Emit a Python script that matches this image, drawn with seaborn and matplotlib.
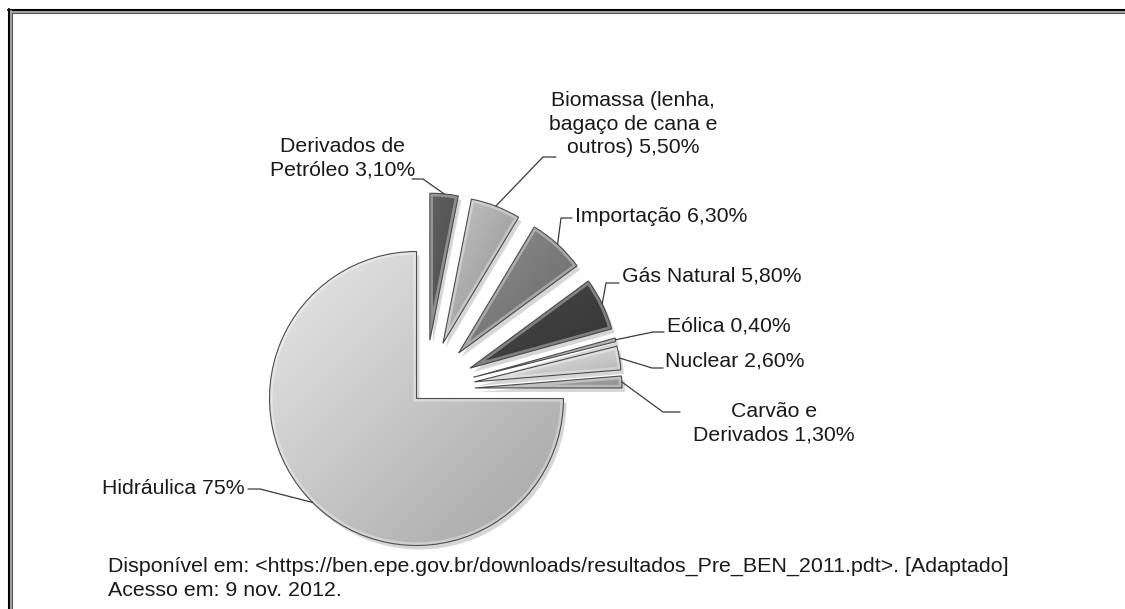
import numpy as np
import matplotlib
matplotlib.use("Agg")
import matplotlib.pyplot as plt
import matplotlib.colors as mcolors
from matplotlib.patches import Wedge
import seaborn as sns

# data (Brazilian electricity supply, BEN 2011)
sources = ["Derivados de\nPetróleo", "Biomassa (lenha,\nbagaço de cana e\noutros)",
           "Importação", "Gás Natural", "Eólica", "Nuclear",
           "Carvão e\nDerivados", "Hidráulica"]
shares = [3.1, 5.5, 6.3, 5.8, 0.4, 2.6, 1.3, 75]
share_labels = ["3,10%", "5,50%", "6,30%", "5,80%", "0,40%", "2,60%", "1,30%", "75%"]
shades = ["#545454", "#a9a9a9", "#7b7b7b", "#3f3f3f", "#8c8c8c", "#d0d0d0", "#a4a4a4", "#c6c6c6"]

source_note = "Disponível em: <https://ben.epe.gov.br/downloads/resultados_Pre_BEN_2011.pdt>. [Adaptado]"
access_note = "Acesso em: 9 nov. 2012."

# layout (pixels, measured from the top-left corner)
W, H = 1125, 609
pie_center = (425, 390)
pie_r = 147
explode = [50] * 7 + [12]
text_pos = [(343, 158), (633, 124), (575, 216), (622, 276), (667, 326),
            (665, 361), (774, 423), (245, 488)]
text_ha = ["center", "center", "left", "left", "left", "left", "center", "right"]
elbows = [[(423, 179), (412, 179)], [(543, 157), (556, 157)], [(561, 218), (572, 218)],
          [(606, 283), (619, 283)], [(653, 332), (664, 332)], [(652, 368), (663, 368)],
          [(663, 412), (680, 412)], [(260, 489), (248, 489)]]

sns.set_theme(style="white")
plt.rcParams['font.family'] = ['Liberation Sans', 'DejaVu Sans']

fig = plt.figure(figsize=(W / 100, H / 100), dpi=100)
ax = fig.add_axes([0, 0, 1, 1])

def fy(y):
    return H - y

wedges, _ = ax.pie(shares, colors=shades, startangle=90, counterclock=False,
                   radius=pie_r, center=(pie_center[0], fy(pie_center[1])),
                   explode=explode, frame=True,
                   wedgeprops=dict(linewidth=0, zorder=2))

for w, c in zip(wedges, shades):
    # soft shadow
    ax.add_patch(Wedge((w.center[0] + 3, w.center[1] - 4), w.r, w.theta1, w.theta2,
                       facecolor=(0, 0, 0, 0.16), edgecolor="none", zorder=1))
    # light-to-dark shading clipped to the slice
    base = np.array(mcolors.to_rgb(c))
    ext = w.get_path().get_extents()
    u = np.linspace(0, 1, 80)[None, :]
    t = np.linspace(0, 1, 80)[:, None]
    v = 0.5 * (1 - u) + 0.5 * t
    img = np.clip(base[None, None, :] * (0.83 + 0.34 * v[..., None]), 0, 1)
    im = ax.imshow(img, extent=(ext.x0, ext.x1, ext.y0, ext.y1), origin="lower",
                   interpolation="bilinear", zorder=3)
    im.set_clip_path(w)
    # bevel: inner highlight + dark rim
    hl = Wedge(w.center, w.r, w.theta1, w.theta2, fill=False,
               edgecolor=(1, 1, 1, 0.35), linewidth=4.5, zorder=4)
    ax.add_patch(hl)
    hl.set_clip_path(w)
    ax.add_patch(Wedge(w.center, w.r, w.theta1, w.theta2, fill=False,
                       edgecolor="#4d4d4d", linewidth=0.8, zorder=5))

for w, name, pct, (tx, ty), ha, elb in zip(wedges, sources, share_labels,
                                           text_pos, text_ha, elbows):
    tm = np.deg2rad((w.theta1 + w.theta2) / 2)
    sx = w.center[0] + w.r * np.cos(tm)
    sy = w.center[1] + w.r * np.sin(tm)
    xs = [sx] + [p[0] for p in elb]
    ys = [sy] + [fy(p[1]) for p in elb]
    ax.plot(xs, ys, color="#3a3a3a", linewidth=0.9, zorder=6)
    ax.text(tx, fy(ty), f"{name} {pct}", ha=ha, va="center", multialignment="center",
            fontsize=15.3, color="#1a1a1a", linespacing=1.27, zorder=7)

ax.text(108, fy(566), source_note, ha="left", va="center", fontsize=15.4, color="#1a1a1a")
ax.text(108, fy(590), access_note, ha="left", va="center", fontsize=15.4, color="#1a1a1a")

# double frame on the top and left edges
ax.plot([8, W], [fy(9.5), fy(9.5)], color="black", linewidth=1.5, clip_on=False)
ax.plot([10, W], [fy(11.5), fy(11.5)], color="#a0a0a0", linewidth=1.5, clip_on=False)
ax.plot([12, W], [fy(13), fy(13)], color="#555555", linewidth=0.8, clip_on=False)
ax.plot([8.5, 8.5], [fy(9), 0], color="black", linewidth=1.5, clip_on=False)
ax.plot([10.5, 10.5], [fy(11), 0], color="#a0a0a0", linewidth=1.5, clip_on=False)
ax.plot([12, 12], [fy(13), 0], color="#555555", linewidth=0.8, clip_on=False)

ax.set_xlim(0, W)
ax.set_ylim(0, H)
ax.set_aspect("equal")
ax.axis("off")

fig.savefig("out.png", dpi=100, facecolor="white")
